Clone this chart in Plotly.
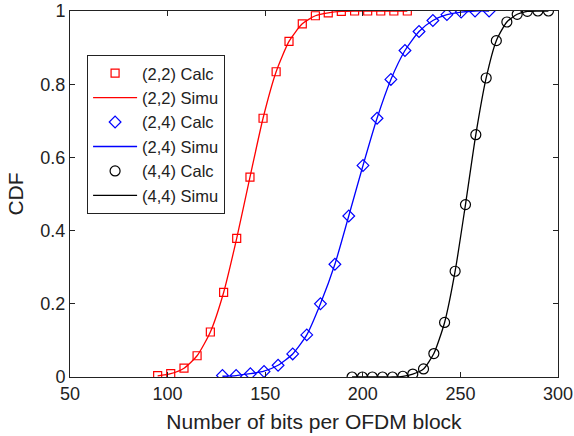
import plotly.graph_objects as go

# (2,2)
x22 = [94.9, 101.6, 108.4, 115.1, 121.9, 128.7, 135.4, 142.2, 148.9, 155.6,
       162.2, 169.0, 175.7, 182.3, 189.0, 195.8, 202.5, 209.2, 215.9, 222.8]
y22_calc = [0.004, 0.009, 0.024, 0.058, 0.123, 0.231, 0.379, 0.546, 0.707, 0.834,
            0.917, 0.965, 0.987, 0.995, 0.999, 1.0, 1.0, 1.0, 1.0, 1.0]
y22_simu = [0.003, 0.009, 0.024, 0.058, 0.123, 0.231, 0.379, 0.546, 0.707, 0.834,
            0.917, 0.965, 0.987, 0.995, 0.999, 1.0, 1.0, 1.0, 1.0, 1.0]
# (2,4)
x24 = [128.1, 135.1, 142.4, 149.4, 156.6, 164.1, 171.3, 178.3, 185.7, 192.8,
       200.1, 207.3, 214.4, 221.6, 228.8, 235.9, 243.1, 250.4, 257.5, 264.7]
y24_calc = [0.004, 0.004, 0.009, 0.015, 0.032, 0.063, 0.115, 0.200, 0.308, 0.440,
            0.578, 0.707, 0.813, 0.892, 0.944, 0.974, 0.990, 0.997, 1.0, 1.0]
y24_simu = [0.002, 0.004, 0.009, 0.016, 0.032, 0.063, 0.115, 0.200, 0.308, 0.440,
            0.578, 0.707, 0.813, 0.892, 0.944, 0.974, 0.990, 0.997, 1.0, 1.0]
# (4,4)
x44 = [194.5, 199.8, 204.9, 210.1, 215.2, 220.5, 225.6, 231.1, 236.4, 241.9,
       247.3, 252.6, 257.9, 263.2, 268.4, 273.8, 279.1, 284.3, 289.7, 295.1]
y44_calc = [0.0, 0.0, 0.0, 0.0, 0.0, 0.002, 0.008, 0.022, 0.064, 0.149,
            0.289, 0.471, 0.662, 0.817, 0.919, 0.970, 0.991, 0.999, 1.0, 1.0]
y44_simu = [0.0, 0.0, 0.0, 0.0, 0.0, 0.002, 0.008, 0.022, 0.064, 0.149,
            0.289, 0.471, 0.662, 0.817, 0.919, 0.970, 0.991, 0.999, 1.0, 1.0]

x_ticks = [50, 100, 150, 200, 250, 300]
y_ticks = [0, 0.2, 0.4, 0.6, 0.8, 1]
y_tick_labels = ["0", "0.2", "0.4", "0.6", "0.8", "1"]

series = [
    ("(2,2)", x22, y22_calc, y22_simu, "#ff0000", "square-open", 8),
    ("(2,4)", x24, y24_calc, y24_simu, "#0000ff", "diamond-open", 9),
    ("(4,4)", x44, y44_calc, y44_simu, "#000000", "circle-open", 10),
]

fig = go.Figure()
for name, xs, yc, ys, col, sym, sz in series:
    fig.add_trace(go.Scatter(
        x=xs, y=yc, mode="markers", name=f"{name} Calc",
        marker=dict(symbol=sym, size=sz, color=col, line=dict(width=1.2, color=col)),
    ))
    fig.add_trace(go.Scatter(
        x=xs, y=ys, mode="lines", name=f"{name} Simu",
        line=dict(color=col, width=1.3, shape="spline", smoothing=0.6),
    ))

axis_common = dict(
    showline=True, linecolor="#222", linewidth=1, mirror="ticks",
    ticks="inside", ticklen=5, tickcolor="#222", showgrid=False, zeroline=False,
    automargin=False,
    tickfont=dict(family="Liberation Sans, Arial", size=18, color="#222"),
)

fig.update_layout(
    width=574, height=436,
    margin=dict(l=70, r=16, t=11, b=59),
    plot_bgcolor="white", paper_bgcolor="white",
    font=dict(family="Liberation Sans, Arial", color="#222"),
    xaxis=dict(range=[50, 300], tickvals=x_ticks,
               title=dict(text="Number of bits per OFDM block", font=dict(size=21), standoff=11),
               **axis_common),
    yaxis=dict(range=[0, 1], tickvals=y_ticks, ticktext=y_tick_labels,
               title=dict(text="CDF", font=dict(size=21), standoff=11),
               **axis_common),
    legend=dict(x=0.035, y=0.88, xanchor="left", yanchor="top",
                bordercolor="#222", borderwidth=1, bgcolor="white",
                font=dict(size=16.5, color="#222"), itemwidth=44,
                tracegroupgap=0),
    showlegend=True,
)

fig.write_html("out.html", config={"displayModeBar": False},
               post_script="document.body.style.margin='0';")
